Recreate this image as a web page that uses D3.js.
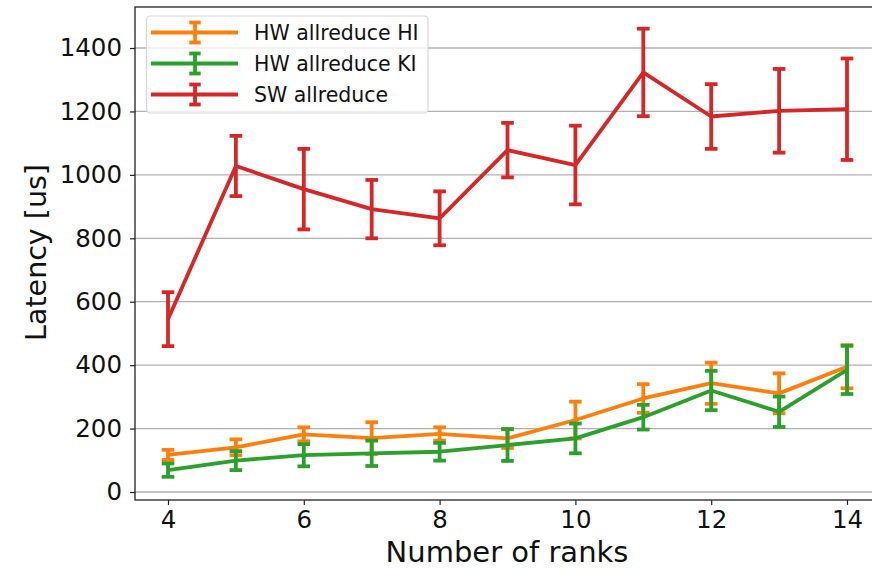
<!DOCTYPE html>
<html>
<head>
<meta charset="utf-8">
<script src="https://cdn.jsdelivr.net/npm/d3@7"></script>
<style>
  html, body { margin: 0; padding: 0; background: #fff; }
  svg { display: block; font-family: "DejaVu Sans", sans-serif; }
</style>
</head>
<body>
<svg id="chart" width="872" height="569"></svg>
<script>
// Number of ranks on the x axis
const ranks = [4, 5, 6, 7, 8, 9, 10, 11, 12, 13, 14];

// Mean latency [us] and error (half-width) per series
const hwHI = [117, 141, 182, 170, 183, 169, 227, 295, 343, 311, 395];
const hwHIErr = [16, 25, 22, 50, 21, 30, 58, 45, 65, 63, 68];

const hwKI = [69, 99, 116, 122, 127, 148, 169, 236, 320, 253, 385];
const hwKIErr = [21, 30, 35, 40, 28, 50, 47, 39, 62, 48, 76];

const sw = [545, 1028, 955, 892, 863, 1078, 1031, 1323, 1184, 1202, 1207];
const swErr = [85, 95, 127, 92, 85, 86, 124, 138, 102, 132, 160];

const xTicks = [4, 6, 8, 10, 12, 14];
const yTicks = [0, 200, 400, 600, 800, 1000, 1200, 1400];

const seriesNames = ["HW allreduce HI", "HW allreduce KI", "SW allreduce"];
const seriesColors = ["#ff7f0e", "#2ca02c", "#d62728"];

const series = [
  { name: seriesNames[0], color: seriesColors[0], y: hwHI, err: hwHIErr },
  { name: seriesNames[1], color: seriesColors[1], y: hwKI, err: hwKIErr },
  { name: seriesNames[2], color: seriesColors[2], y: sw, err: swErr }
];

const svg = d3.select("#chart");
const plot = { left: 135, right: 880, top: 7, bottom: 500 };

const x = d3.scaleLinear().domain([3.514, 14.486]).range([plot.left, plot.right]);
const y = d3.scaleLinear().domain([-25.2, 1529.3]).range([plot.bottom, plot.top]);

// Horizontal grid
svg.append("g")
  .selectAll("line")
  .data(yTicks)
  .join("line")
  .attr("x1", plot.left).attr("x2", plot.right)
  .attr("y1", d => y(d)).attr("y2", d => y(d))
  .attr("stroke", "#b0b0b0").attr("stroke-width", 1.3);

// Axes
const yAxis = d3.axisLeft(y).tickValues(yTicks).tickSize(5).tickPadding(8).tickFormat(d3.format("d"));
const xAxis = d3.axisBottom(x).tickValues(xTicks).tickSize(5).tickPadding(6).tickFormat(d3.format("d"));

const gy = svg.append("g").attr("transform", `translate(${plot.left},0)`).call(yAxis);
const gx = svg.append("g").attr("transform", `translate(0,${plot.bottom})`).call(xAxis);
[gx, gy].forEach(g => {
  g.select(".domain").remove();
  g.selectAll(".tick line").attr("stroke", "#222").attr("stroke-width", 1.2);
  g.selectAll(".tick text").attr("fill", "#111").style("font-size", "24.5px")
    .style("font-family", "'DejaVu Sans', sans-serif");
});

// Spines
svg.append("rect")
  .attr("x", plot.left).attr("y", plot.top)
  .attr("width", plot.right - plot.left).attr("height", plot.bottom - plot.top)
  .attr("fill", "none").attr("stroke", "#222").attr("stroke-width", 1.3);

// Series with error bars
const line = d3.line().x((d, i) => x(ranks[i])).y(d => y(d));
const capW = 6.3;
const lw = 3.8;

series.forEach(s => {
  const g = svg.append("g");
  g.append("path")
    .datum(s.y)
    .attr("d", line)
    .attr("fill", "none")
    .attr("stroke", s.color)
    .attr("stroke-width", lw)
    .attr("stroke-linejoin", "round");
  const pts = s.y.map((v, i) => ({ x: ranks[i], v, e: s.err[i] }));
  g.selectAll("line.bar").data(pts).join("line")
    .attr("class", "bar")
    .attr("x1", d => x(d.x)).attr("x2", d => x(d.x))
    .attr("y1", d => y(d.v - d.e)).attr("y2", d => y(d.v + d.e))
    .attr("stroke", s.color).attr("stroke-width", lw);
  ["lo", "hi"].forEach(k => {
    g.selectAll("line.cap" + k).data(pts).join("line")
      .attr("class", "cap" + k)
      .attr("x1", d => x(d.x) - capW).attr("x2", d => x(d.x) + capW)
      .attr("y1", d => y(k === "lo" ? d.v - d.e : d.v + d.e))
      .attr("y2", d => y(k === "lo" ? d.v - d.e : d.v + d.e))
      .attr("stroke", s.color).attr("stroke-width", lw);
  });
});

// Axis titles
svg.append("text")
  .attr("x", 507).attr("y", 561.5)
  .attr("text-anchor", "middle")
  .style("font-size", "29px").attr("fill", "#111")
  .text("Number of ranks");

svg.append("text")
  .attr("transform", "translate(46,252.5) rotate(-90)")
  .attr("text-anchor", "middle")
  .style("font-size", "28.5px").attr("fill", "#111")
  .text("Latency [us]");

// Legend
const lg = svg.append("g");
lg.append("rect")
  .attr("x", 146.5).attr("y", 16).attr("width", 281.5).attr("height", 97)
  .attr("rx", 4).attr("fill", "rgba(255,255,255,0.8)")
  .attr("stroke", "#d6d6d6").attr("stroke-width", 1.2);
const rowY = [32.5, 63.5, 94.5];
series.forEach((s, i) => {
  const cy = rowY[i];
  lg.append("line").attr("x1", 151).attr("x2", 238).attr("y1", cy).attr("y2", cy)
    .attr("stroke", s.color).attr("stroke-width", lw);
  lg.append("line").attr("x1", 195).attr("x2", 195).attr("y1", cy - 10).attr("y2", cy + 10)
    .attr("stroke", s.color).attr("stroke-width", lw);
  [cy - 10, cy + 10].forEach(yy => {
    lg.append("line").attr("x1", 195 - 5.7).attr("x2", 195 + 5.7).attr("y1", yy).attr("y2", yy)
      .attr("stroke", s.color).attr("stroke-width", lw);
  });
  lg.append("text").attr("x", 254).attr("y", cy + 7.3)
    .style("font-size", "20.5px").attr("fill", "#111")
    .text(s.name);
});
</script>
</body>
</html>
